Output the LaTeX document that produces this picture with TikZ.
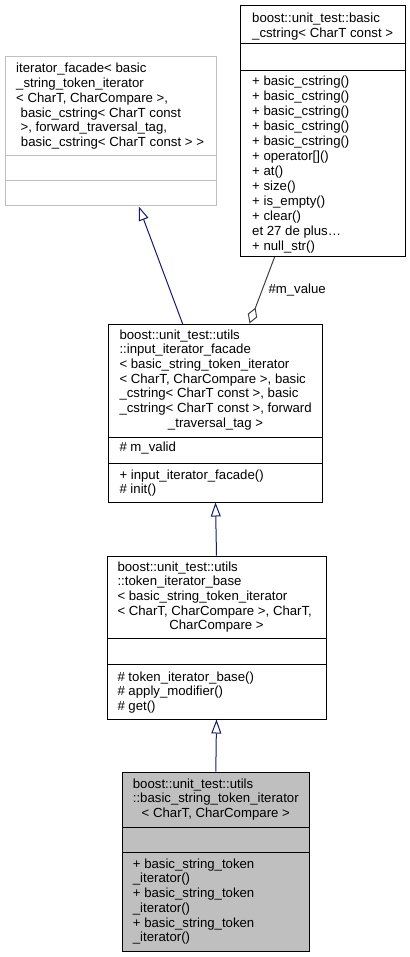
\documentclass[tikz,border=0pt]{standalone}
\usepackage{fontspec}
\setmainfont{Liberation Sans}
\usetikzlibrary{arrows.meta}
\definecolor{navy}{HTML}{191970}
\definecolor{aggr}{HTML}{404040}
\definecolor{lgray}{HTML}{BFBFBF}
\definecolor{boxfill}{HTML}{BFBFBF}
\begin{document}
\begin{tikzpicture}[x=1pt,y=-1pt,
  txt/.style={inner sep=0pt,font=\fontsize{13.2}{14.8}\selectfont},
  lt/.style={txt,anchor=base west},
  ct/.style={txt,anchor=base},
  boxline/.style={line width=1pt,draw=black},
  inherit/.style={draw=navy,line width=1pt,-{Triangle[open,length=14pt,width=10pt,fill=white]}},
  aggreg/.style={draw=aggr,line width=1pt,-{Diamond[open,length=17pt,width=10pt,fill=white]}}
]
\useasboundingbox (0,0) rectangle (409,957);
\fill[white] (0,0) rectangle (409,957);

% Box A: iterator_facade
\node[draw=lgray,line width=1pt,minimum width=211pt,minimum height=149pt,inner sep=0pt] (A) at (110.5,131.5) {};
\draw[lgray,line width=1pt] (5,156) -- (216,156) (5,181) -- (216,181);
\node[lt] (A1) at (16,73) {iterator\_facade< basic};
\node[lt] (A2) at (16,87.7) {\_string\_token\_iterator};
\node[lt] (A3) at (16,102.4) {< CharT, CharCompare >,};
\node[lt] (A4) at (20.5,117.1) {basic\_cstring< CharT const};
\node[lt] (A5) at (20.5,131.8) {>, forward\_traversal\_tag,};
\node[ct] (A6) at (112.5,146.5) {basic\_cstring< CharT const > >};

% Box B: basic_cstring
\node[boxline,fill=white,minimum width=164.3pt,minimum height=251.3pt,inner sep=0pt] (B) at (322.85,131.35) {};
\draw[black,line width=1pt] (240.7,44) -- (405,44) (240.7,71) -- (405,71);
\node[lt] (B1) at (252,23) {boost::unit\_test::basic};
\node[lt] (B2) at (252,37.7) {\_cstring< CharT const >};
\foreach [count=\i] \t in {{+ basic\_cstring()},{+ basic\_cstring()},{+ basic\_cstring()},{+ basic\_cstring()},{+ basic\_cstring()},{+ operator[]()},{+ at()},{+ size()},{+ is\_empty()},{+ clear()},{et 27 de plus\ldots},{+ null\_str()}}
  \node[lt] (Bm\i) at (252,{86+14.95*(\i-1)}) {\t};

% Box C: input_iterator_facade
\node[boxline,fill=white,minimum width=214.4pt,minimum height=178pt,inner sep=0pt] (C) at (215.5,413) {};
\draw[black,line width=1pt] (108.3,437) -- (322.7,437) (108.3,463) -- (322.7,463);
\foreach [count=\i] \t in {{boost::unit\_test::utils},{::input\_iterator\_facade},{< basic\_string\_token\_iterator},{< CharT, CharCompare >, basic},{\_cstring< CharT const >, basic},{\_cstring< CharT const >, forward}}
  \node[lt] (Ch\i) at (119.3,{339+14.7*(\i-1)}) {\t};
\node[ct] (Ch7) at (215.5,427.2) {\_traversal\_tag >};
\node[lt] (Ca1) at (119.3,451.7) {\# m\_valid};
\node[lt] (Cm1) at (119.3,479) {+ input\_iterator\_facade()};
\node[lt] (Cm2) at (119.3,493.8) {\# init()};

% Box D: token_iterator_base
\node[boxline,fill=white,minimum width=219pt,minimum height=163pt,inner sep=0pt] (D) at (216.5,637.5) {};
\draw[black,line width=1pt] (107,638) -- (326,638) (107,664) -- (326,664);
\foreach [count=\i] \t in {{boost::unit\_test::utils},{::token\_iterator\_base},{< basic\_string\_token\_iterator},{< CharT, CharCompare >, CharT,}}
  \node[lt] (Dh\i) at (117.3,{571+14.7*(\i-1)}) {\t};
\node[ct] (Dh5) at (216.5,629.8) {CharCompare >};
\node[lt] (Dm1) at (117.3,681) {\# token\_iterator\_base()};
\node[lt] (Dm2) at (117.3,695.7) {\# apply\_modifier()};
\node[lt] (Dm3) at (117.3,710.4) {\# get()};

% Box E: basic_string_token_iterator
\node[boxline,fill=boxfill,minimum width=187pt,minimum height=179pt,inner sep=0pt] (E) at (215.8,861.5) {};
\draw[black,line width=1pt] (122.3,827) -- (309.3,827) (122.3,852) -- (309.3,852);
\node[lt] (Eh1) at (132.7,788) {boost::unit\_test::utils};
\node[lt] (Eh2) at (132.7,802.7) {::basic\_string\_token\_iterator};
\node[ct] (Eh3) at (215.8,817.4) {< CharT, CharCompare >};
\foreach [count=\i] \t in {{+ basic\_string\_token},{\_iterator()},{+ basic\_string\_token},{\_iterator()},{+ basic\_string\_token},{\_iterator()}}
  \node[lt] (Em\i) at (132.7,{868+14.75*(\i-1)}) {\t};

% connectors
\coordinate (Ctop) at (182.7,324);
\coordinate (Abot) at (138.8,206.5);
\draw[inherit] (Ctop) -- (Abot);
\draw[inherit] (D.north) -- (C.south);
\draw[inherit] (E.north) -- (D.south);
\coordinate (Bbot) at (274.6,257);
\coordinate (Cagg) at (249.5,323.5);
\draw[aggreg] (Bbot) -- (Cagg);
\node[lt] (lbl) at (268.3,293.3) {\#m\_value};
\end{tikzpicture}
\end{document}
